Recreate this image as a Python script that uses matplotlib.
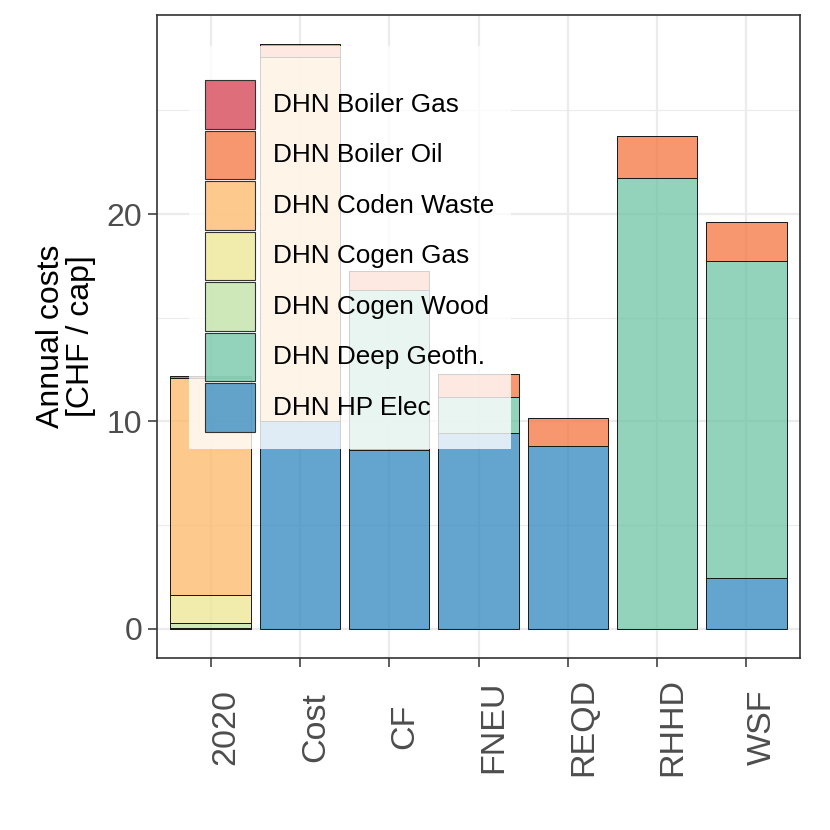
import matplotlib
matplotlib.use("Agg")
import matplotlib.pyplot as plt
from matplotlib.patches import Rectangle
from matplotlib.ticker import MultipleLocator
import numpy as np

scenarios = ["2020", "Cost", "CF", "FNEU", "REQD", "RHHD", "WSF"]
# stacking order bottom -> top
techs = ["DHN HP Elec", "DHN Deep Geoth.", "DHN Cogen Wood", "DHN Cogen Gas",
         "DHN Coden Waste", "DHN Boiler Oil", "DHN Boiler Gas"]
hp_elec      = [0.00, 10.00, 8.60, 9.44, 8.80, 0.00, 2.47]
deep_geoth   = [0.03, 0.00, 7.74, 1.76, 0.00, 21.73, 15.29]
cogen_wood   = [0.26, 0.00, 0.00, 0.00, 0.00, 0.00, 0.00]
cogen_gas    = [1.33, 0.00, 0.00, 0.00, 0.00, 0.00, 0.00]
coden_waste  = [10.47, 17.57, 0.00, 0.00, 0.00, 0.00, 0.00]
boiler_oil   = [0.00, 0.62, 0.93, 1.10, 1.37, 2.05, 1.88]
boiler_gas   = [0.08, 0.00, 0.00, 0.00, 0.00, 0.00, 0.00]
series = [hp_elec, deep_geoth, cogen_wood, cogen_gas, coden_waste, boiler_oil, boiler_gas]

colors = {
    "DHN Boiler Gas": "#D53E4F",
    "DHN Boiler Oil": "#F3753F",
    "DHN Coden Waste": "#FEB866",
    "DHN Cogen Gas": "#EDE68F",
    "DHN Cogen Wood": "#BEE1A2",
    "DHN Deep Geoth.": "#6FC3A4",
    "DHN HP Elec": "#2F87BF",
}
ALPHA = 0.75

plt.rcParams['font.family'] = ['Liberation Sans', 'DejaVu Sans']

fig = plt.figure(figsize=(8.3, 8.3), dpi=100)
ax = fig.add_axes([157/830, (830-658)/830, 643/830, 643/830])

x = np.arange(len(scenarios))
bottom = np.zeros(len(scenarios))
for name, vals in zip(techs, series):
    vals = np.array(vals)
    ax.bar(x, vals, width=0.9, bottom=bottom, color=colors[name], alpha=ALPHA,
           edgecolor="none", zorder=2)
    ax.bar(x, vals, width=0.9, bottom=bottom, facecolor="none",
           edgecolor="#1a1a1a", linewidth=0.7, zorder=2.1)
    bottom = bottom + vals

total = bottom.max()
ax.set_xlim(-0.6, len(scenarios) - 1 + 0.6)
ax.set_ylim(-0.05 * total, total * 1.05)

ax.set_xticks(x)
ax.set_xticklabels(scenarios, rotation=90, fontsize=24.5, color="#4d4d4d")
for lab in ax.get_xticklabels():
    lab.set_ha("left")
    lab.set_va("center")
ax.yaxis.set_major_locator(MultipleLocator(10))
ax.yaxis.set_minor_locator(MultipleLocator(5))
ax.tick_params(axis="y", labelsize=23, labelcolor="#4d4d4d", length=6.5,
               width=1.1, color="#333333", pad=4)
ax.tick_params(axis="x", length=6.5, width=1.1, color="#333333", pad=43)
ax.tick_params(axis="y", which="minor", length=0)

ax.grid(True, which="major", color="#ebebeb", linewidth=1.6, zorder=0)
ax.grid(True, which="minor", axis="y", color="#ebebeb", linewidth=0.8, zorder=0)
ax.set_axisbelow(True)
for s in ax.spines.values():
    s.set_color("#333333")
    s.set_linewidth(1.2)

ax.set_ylabel("Annual costs\n[CHF / cap]", fontsize=23, color="black",
              linespacing=1.0, labelpad=8)

# legend (ggplot-style, inside panel, semi-transparent background)
def ax_y(py):
    return (658 - py) / 643
def ax_x(px):
    return (px - 157) / 643

ax.add_patch(Rectangle((ax_x(189), ax_y(449)), ax_x(511) - ax_x(189),
                       ax_y(46) - ax_y(449), transform=ax.transAxes,
                       facecolor="white", alpha=0.8, edgecolor="none",
                       zorder=5, clip_on=False))
legend_order = ["DHN Boiler Gas", "DHN Boiler Oil", "DHN Coden Waste",
                "DHN Cogen Gas", "DHN Cogen Wood", "DHN Deep Geoth.", "DHN HP Elec"]
key_top, key_h = 79.3, 50.5
for i, name in enumerate(legend_order):
    t = key_top + i * key_h
    ax.add_patch(Rectangle((ax_x(205), ax_y(t + key_h - 1)), ax_x(255) - ax_x(205),
                           ax_y(t + 1) - ax_y(t + key_h - 1), transform=ax.transAxes,
                           facecolor=colors[name], alpha=ALPHA, edgecolor="none",
                           zorder=6, clip_on=False))
    ax.add_patch(Rectangle((ax_x(205), ax_y(t + key_h - 1)), ax_x(255) - ax_x(205),
                           ax_y(t + 1) - ax_y(t + key_h - 1), transform=ax.transAxes,
                           facecolor="none", edgecolor="#333333", linewidth=0.8,
                           zorder=6.1, clip_on=False))
    ax.text(ax_x(273), ax_y(t + key_h / 2), name, transform=ax.transAxes,
            fontsize=18.8, va="center", ha="left", color="black", zorder=7)

fig.savefig("out.png", dpi=100)
